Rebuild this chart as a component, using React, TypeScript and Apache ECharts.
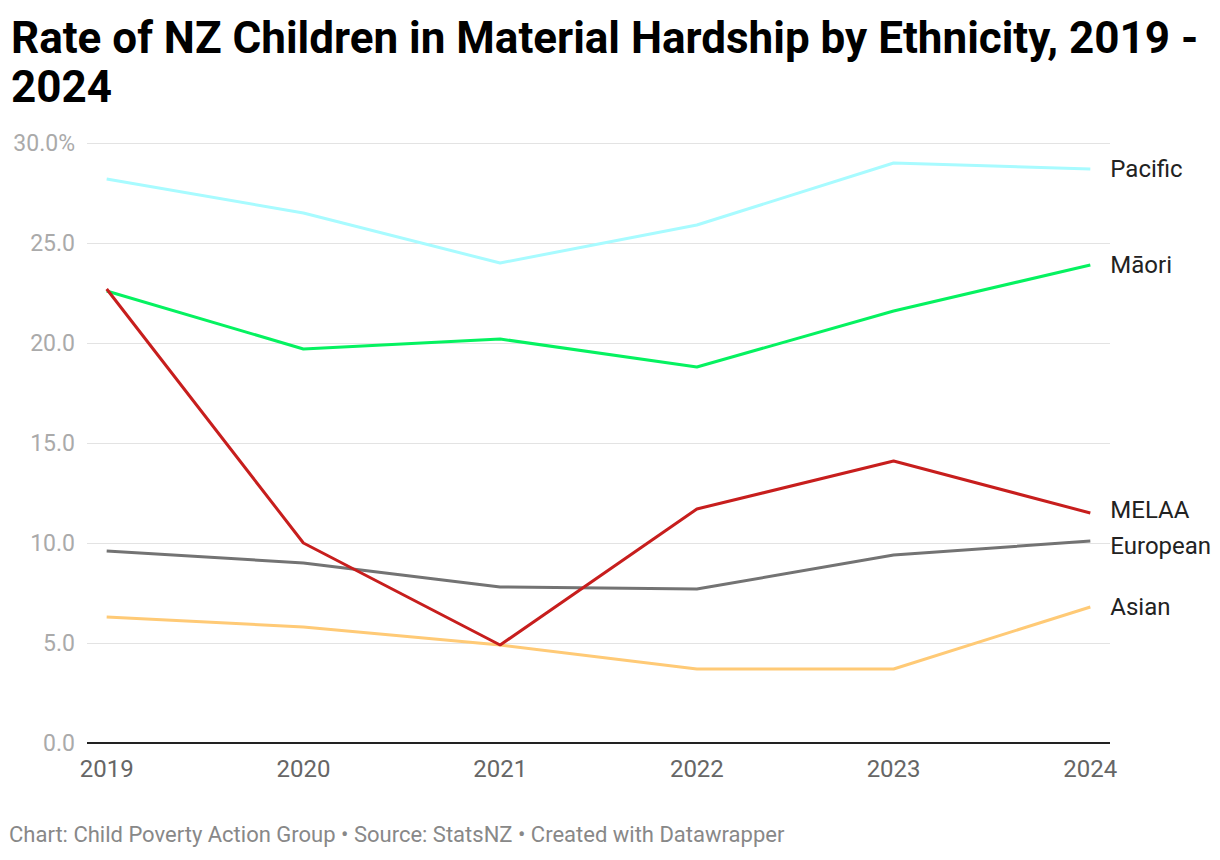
import React, { useEffect, useRef } from "react";
import * as echarts from "echarts";

const years = [2019, 2020, 2021, 2022, 2023, 2024];
const pacific = [28.2, 26.5, 24.0, 25.9, 29.0, 28.7];
const maori = [22.6, 19.7, 20.2, 18.8, 21.6, 23.9];
const melaa = [22.7, 10.0, 4.9, 11.7, 14.1, 11.5];
const european = [9.6, 9.0, 7.8, 7.7, 9.4, 10.1];
const asian = [6.3, 5.8, 4.9, 3.7, 3.7, 6.8];
const yTicks = [0, 5, 10, 15, 20, 25, 30];

const FONT = "Roboto, 'Noto Sans', sans-serif";

export default function App() {
  const ref = useRef<HTMLDivElement>(null);
  useEffect(() => {
    if (!ref.current) return;
    const chart = echarts.init(ref.current, null, { renderer: "svg" });
    const mk = (name: string, data: number[], color: string, offset: number[] = [0, 0]) => ({
      name,
      type: "line",
      data: years.map((y, i) => [y, data[i]]),
      symbol: "none",
      lineStyle: { color, width: 3 },
      itemStyle: { color },
      z: name === "MELAA" ? 5 : 3,
      endLabel: {
        show: true,
        formatter: name,
        distance: 20,
        offset,
        color: "#222",
        fontSize: 24,
        fontFamily: FONT,
      },
    });
    chart.setOption({
      animation: false,
      backgroundColor: "#fff",
      textStyle: { fontFamily: FONT },
      title: {
        text: "Rate of NZ Children in Material Hardship by Ethnicity, 2019 -\n2024",
        left: 6,
        top: 8,
        textStyle: {
          fontSize: 44,
          fontWeight: "bold",
          color: "#000",
          fontFamily: FONT,
          lineHeight: 49,
        },
      },
      graphic: [
        {
          type: "text",
          left: 9,
          top: 823,
          style: {
            text: "Chart: Child Poverty Action Group • Source: StatsNZ • Created with Datawrapper",
            fill: "#888",
            fontSize: 22,
            fontFamily: FONT,
          },
        },
      ],
      grid: { left: 87, right: 110, top: 143, bottom: 117 },
      xAxis: {
        type: "value",
        min: 2018.9,
        max: 2024.1,
        axisLine: { show: false },
        axisTick: { show: false },
        splitLine: { show: false },
        axisLabel: {
          customValues: years,
          formatter: (v: number) => String(v),
          color: "#666",
          fontSize: 24,
          fontFamily: FONT,
          margin: 14,
        },
      },
      yAxis: {
        type: "value",
        min: 0,
        max: 30,
        interval: 5,
        axisLine: { show: false },
        axisTick: { show: false },
        splitLine: { lineStyle: { color: "#e3e3e3", width: 1 } },
        axisLabel: {
          customValues: yTicks,
          formatter: (v: number) => (v === 30 ? "30.0%" : v.toFixed(1)),
          color: "#aaa",
          fontSize: 23,
          fontFamily: FONT,
          margin: 12,
        },
      },
      series: [
        mk("Pacific", pacific, "#a8fbff"),
        mk("Māori", maori, "#05f260"),
        mk("European", european, "#737373", [0, 5]),
        mk("Asian", asian, "#ffca76"),
        mk("MELAA", melaa, "#c71e1d", [0, -3]),
        {
          type: "line",
          data: [[2018.9, 0], [2024.1, 0]],
          symbol: "none",
          silent: true,
          lineStyle: { color: "#222", width: 2 },
          z: 6,
        },
      ],
    });
    return () => chart.dispose();
  }, []);
  return (
    <div
      ref={ref}
      style={{ position: "fixed", left: 0, top: 0, width: 1220, height: 860 }}
    />
  );
}
